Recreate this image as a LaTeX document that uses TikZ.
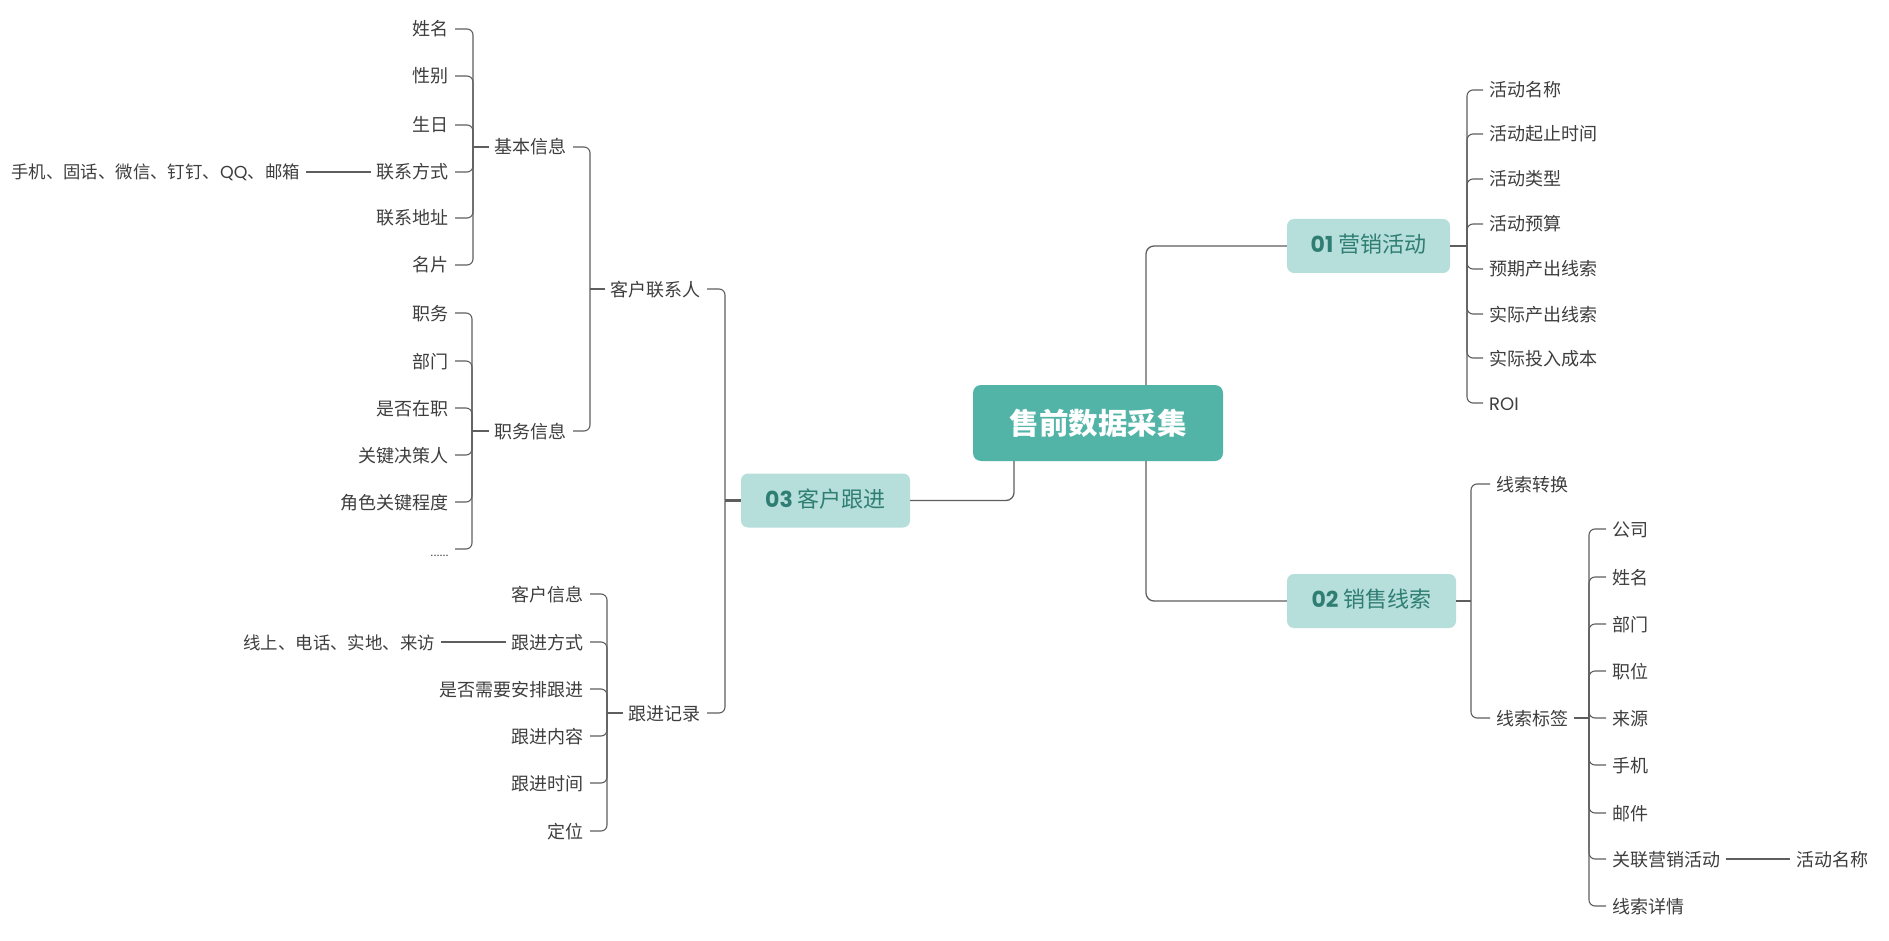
\documentclass[tikz,border=0pt]{standalone}
\usepackage{fontspec}
\setmainfont{Noto Sans CJK SC}
\newfontfamily\latf{Poppins}
\definecolor{corefill}{HTML}{52B3A7}
\definecolor{branchfill}{HTML}{B6DEDA}
\definecolor{branchtext}{HTML}{2F7E74}
\definecolor{linec}{HTML}{5E5E5E}
\definecolor{itemtext}{HTML}{3E3E3E}
\begin{document}
\begin{tikzpicture}[x=1pt,y=-1pt,
  item/.style={inner xsep=6pt, inner ysep=0pt, text height=16pt, text depth=2pt,
    text=itemtext, font=\fontsize{18}{21}\selectfont},
  itemR/.style={item, anchor=west},
  itemL/.style={item, anchor=east},
  longitem/.style={itemL, font=\fontsize{17.4}{21}\selectfont},
  branch/.style={fill=branchfill, rounded corners=7pt, text=branchtext,
    minimum height=54pt, inner sep=0pt, text height=16pt, text depth=3pt,
    font=\fontsize{22}{25}\selectfont},
  corebox/.style={fill=corefill, rounded corners=8pt, text=white,
    minimum width=250pt, minimum height=76pt, inner sep=0pt,
    font=\fontsize{29.5}{34}\selectfont\bfseries},
  trunk/.style={draw=linec, line width=1.3pt, rounded corners=8pt},
  conn/.style={draw=linec, line width=1.1pt, rounded corners=6pt},
  stub/.style={draw=linec, line width=2.2pt},
  plain/.style={draw=linec, line width=1.1pt}
]
\useasboundingbox[fill=white] (0,0) rectangle (1889,941);

% ---------- central and branch nodes ----------
\node[corebox] (core) at (1098,423) {售前数据采集};
\node[branch, minimum width=163pt] (n01) at (1368.5,246) {{\latf\bfseries 01} 营销活动};
\node[branch, minimum width=169pt] (n02) at (1371.5,601) {{\latf\bfseries 02} 销售线索};
\node[branch, minimum width=169pt] (n03) at (825.5,500.5) {{\latf\bfseries 03} 客户跟进};

\coordinate (up1) at (1146,385);
\coordinate (dn1) at (1146,461);
\coordinate (dn2) at (1014,461);
\draw[trunk] (up1) |- (n01.west);
\draw[trunk] (dn1) |- (n02.west);
\draw[trunk] (dn2) |- (n03.east);

% ---------- 01 营销活动 ----------
\coordinate (j01) at (1467,246);
\node[itemR] (a1) at (1483,90)  {活动名称};
\node[itemR] (a2) at (1483,134) {活动起止时间};
\node[itemR] (a3) at (1483,179) {活动类型};
\node[itemR] (a4) at (1483,224) {活动预算};
\node[itemR] (a5) at (1483,269) {预期产出线索};
\node[itemR] (a6) at (1483,314) {实际产出线索};
\node[itemR] (a7) at (1483,358) {实际投入成本};
\node[itemR] (a8) at (1483,403) {{\latf ROI}};
\draw[stub] (n01.east) -- (j01);
\foreach \i in {1,...,8} \draw[conn] (j01) |- (a\i.west);

% ---------- 02 销售线索 ----------
\coordinate (j02) at (1471,601);
\node[itemR] (b1) at (1490,484) {线索转换};
\node[itemR] (b2) at (1490,718) {线索标签};
\draw[stub] (n02.east) -- (j02);
\draw[conn] (j02) |- (b1.west);
\draw[conn] (j02) |- (b2.west);

\coordinate (j03) at (1589,718);
\node[itemR] (c1) at (1606,529) {公司};
\node[itemR] (c2) at (1606,577) {姓名};
\node[itemR] (c3) at (1606,624) {部门};
\node[itemR] (c4) at (1606,671) {职位};
\node[itemR] (c5) at (1606,718) {来源};
\node[itemR] (c6) at (1606,765) {手机};
\node[itemR] (c7) at (1606,813) {邮件};
\node[itemR] (c8) at (1606,859) {关联营销活动};
\node[itemR] (c9) at (1606,906) {线索详情};
\draw[stub] (b2.east) -- (j03);
\foreach \i in {1,...,9} \draw[conn] (j03) |- (c\i.west);
\node[itemR] (d1) at (1790,859) {活动名称};
\draw[plain] (c8.east) -- (d1.west);

% ---------- 03 客户跟进 ----------
\coordinate (k0) at (725,500.5);
\node[itemL] (l1) at (707,289) {客户联系人};
\node[itemL] (l2) at (707,713) {跟进记录};
\draw[stub] (n03.west) -- (k0);
\draw[conn] (k0) |- (l1.east);
\draw[conn] (k0) |- (l2.east);

% 客户联系人
\coordinate (k1) at (590,289);
\node[itemL] (m1) at (573,147) {基本信息};
\node[itemL] (m2) at (573,431) {职务信息};
\draw[stub] (l1.west) -- (k1);
\draw[conn] (k1) |- (m1.east);
\draw[conn] (k1) |- (m2.east);

% 基本信息
\coordinate (k3) at (473,147);
\node[itemL] (p1) at (455,29)  {姓名};
\node[itemL] (p2) at (455,76)  {性别};
\node[itemL] (p3) at (455,125) {生日};
\node[itemL] (p4) at (455,172) {联系方式};
\node[itemL] (p5) at (455,218) {联系地址};
\node[itemL] (p6) at (455,265) {名片};
\draw[stub] (m1.west) -- (k3);
\foreach \i in {1,...,6} \draw[conn] (k3) |- (p\i.east);
\node[longitem] (q1) at (306,172) {手机、固话、微信、钉钉、{\latf QQ}、邮箱};
\draw[plain] (p4.west) -- (q1.east);

% 职务信息
\coordinate (k4) at (472,431);
\node[itemL] (r1) at (455,313) {职务};
\node[itemL] (r2) at (455,361) {部门};
\node[itemL] (r3) at (455,408) {是否在职};
\node[itemL] (r4) at (455,455) {关键决策人};
\node[itemL] (r5) at (455,502) {角色关键程度};
\node[itemL] (r6) at (455,549) {\fontsize{11}{12}\selectfont ......};
\draw[stub] (m2.west) -- (k4);
\foreach \i in {1,...,6} \draw[conn] (k4) |- (r\i.east);

% 跟进记录
\coordinate (k2) at (607,713);
\node[itemL] (s1) at (590,594) {客户信息};
\node[itemL] (s2) at (590,642) {跟进方式};
\node[itemL] (s3) at (590,689) {是否需要安排跟进};
\node[itemL] (s4) at (590,736) {跟进内容};
\node[itemL] (s5) at (590,783) {跟进时间};
\node[itemL] (s6) at (590,831) {定位};
\draw[stub] (l2.west) -- (k2);
\foreach \i in {1,...,6} \draw[conn] (k2) |- (s\i.east);
\node[longitem] (t1) at (441,642) {线上、电话、实地、来访};
\draw[plain] (s2.west) -- (t1.east);
\end{tikzpicture}
\end{document}
